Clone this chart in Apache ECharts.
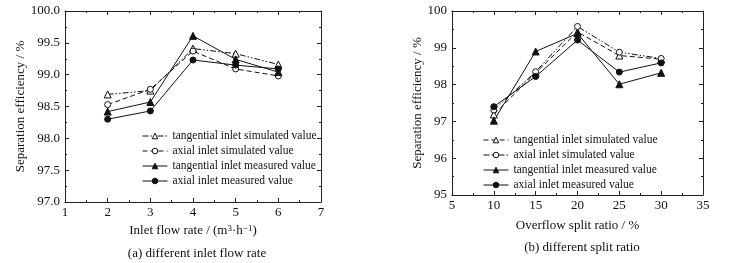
<!DOCTYPE html>
<html>
<head>
<meta charset="utf-8">
<script src="https://cdn.jsdelivr.net/npm/echarts@6/dist/echarts.min.js"></script>
<style>
  html, body { margin: 0; padding: 0; background: #fff; }
  #chart { width: 735px; height: 263px; }
</style>
</head>
<body>
<div id="chart"></div>
<script>
// (a) inlet flow rate
var flowRate = [2, 3, 4, 5, 6];
var aTangSim = [98.69, 98.75, 99.41, 99.33, 99.16];
var aAxialSim = [98.53, 98.77, 99.37, 99.09, 98.98];
var aTangMeas = [98.42, 98.57, 99.61, 99.24, 99.04];
var aAxialMeas = [98.30, 98.43, 99.23, 99.15, 99.09];

// (b) overflow split ratio
var splitRatio = [10, 15, 20, 25, 30];
var bTangSim = [97.19, 98.32, 99.43, 98.79, 98.69];
var bAxialSim = [97.31, 98.35, 99.58, 98.88, 98.71];
var bTangMeas = [97.02, 98.90, 99.39, 98.01, 98.32];
var bAxialMeas = [97.40, 98.22, 99.21, 98.34, 98.59];

var names = ['tangential inlet simulated value', 'axial inlet simulated value',
             'tangential inlet measured value', 'axial inlet measured value'];

var FONT = '"Liberation Serif", "Times New Roman", serif';
var dashDotDot = [6, 2, 1.5, 2, 1.5, 2];
var dashed = [5, 3];

function pairs(xs, ys) {
  var out = [];
  for (var i = 0; i < xs.length; i++) out.push([xs[i], ys[i]]);
  return out;
}

function mkSeries(name, data, symbol, filled, lineType) {
  return {
    name: name,
    type: 'line',
    data: data,
    symbol: symbol,
    symbolSize: symbol === 'circle' ? 6 : 7,
    showSymbol: true,
    animation: false,
    lineStyle: { color: '#111', width: 1, type: lineType },
    itemStyle: { color: filled ? '#111' : '#fff', borderColor: '#111', borderWidth: 1 },
    emphasis: { disabled: true }
  };
}

function axisCommon(extra) {
  var base = {
    type: 'value',
    axisLine: { show: true, lineStyle: { color: '#222', width: 1 } },
    axisTick: { show: true, inside: true, length: 4, lineStyle: { color: '#222' } },
    minorTick: { show: true, splitNumber: 2, length: 2, lineStyle: { color: '#222' } },
    splitLine: { show: false },
    axisLabel: { color: '#111', fontFamily: FONT, fontSize: 13, margin: 4 }
  };
  for (var k in extra) base[k] = extra[k];
  return base;
}

function legendOpt(left, top) {
  return {
    data: names, orient: 'vertical', left: left, top: top, padding: 0,
    itemGap: 3, itemWidth: 25, itemHeight: 7,
    lineStyle: { width: 1 },
    itemStyle: { borderWidth: 1 },
    textStyle: { fontFamily: FONT, fontSize: 11.5, color: '#111' },
    selectedMode: false
  };
}

var nameStyle = {
  fontFamily: FONT, fontSize: 13, color: '#111',
  rich: { sup: { fontFamily: FONT, fontSize: 9, color: '#111', verticalAlign: 'top', lineHeight: 10 } }
};

// panel (a)
var chart = echarts.init(document.getElementById('chart'));
chart.setOption({
  backgroundColor: '#fff',
  animation: false,
  title: [
    { text: '(a) different inlet flow rate', left: 192, top: 242, textAlign: 'center',
      textStyle: { fontFamily: FONT, fontSize: 13, fontWeight: 'normal', color: '#111' } },
    { text: '(b) different split ratio', left: 577, top: 236, textAlign: 'center',
      textStyle: { fontFamily: FONT, fontSize: 13, fontWeight: 'normal', color: '#111' } }
  ],
  grid: { left: 65, top: 11, width: 256, height: 191 },
  legend: legendOpt(142, 130),
  xAxis: [
    axisCommon({ min: 1, max: 7, interval: 1, name: 'Inlet flow rate / (m{sup|3}\u00b7h{sup|\u22121})',
      nameLocation: 'middle', nameGap: 21, nameTextStyle: nameStyle }),
    axisCommon({ min: 1, max: 7, interval: 1, position: 'top', axisLabel: { show: false } })
  ],
  yAxis: [
    axisCommon({ min: 97, max: 100, interval: 0.5, name: 'Separation efficiency / %',
      nameLocation: 'middle', nameGap: 32, nameTextStyle: nameStyle,
      axisLabel: { color: '#111', fontFamily: FONT, fontSize: 13, margin: 5,
        formatter: function (v) { return v.toFixed(1); } } }),
    axisCommon({ min: 97, max: 100, interval: 0.5, position: 'right', axisLabel: { show: false } })
  ],
  series: [
    mkSeries(names[0], pairs(flowRate, aTangSim), 'triangle', false, dashDotDot),
    mkSeries(names[1], pairs(flowRate, aAxialSim), 'circle', false, dashed),
    mkSeries(names[2], pairs(flowRate, aTangMeas), 'triangle', true, 'solid'),
    mkSeries(names[3], pairs(flowRate, aAxialMeas), 'circle', true, 'solid')
  ]
});

// panel (b): its own chart laid over the page so its legend has its own line styles
var div2 = document.createElement('div');
div2.style.cssText = 'position:absolute;left:0;top:0;width:735px;height:263px;pointer-events:none;';
document.body.style.position = 'relative';
document.body.appendChild(div2);
var chart2 = echarts.init(div2);
chart2.setOption({
  animation: false,
  grid: { left: 452, top: 11, width: 251, height: 184 },
  legend: legendOpt(483, 134),
  xAxis: [
    axisCommon({ min: 5, max: 35, interval: 5, name: 'Overflow split ratio / %',
      nameLocation: 'middle', nameGap: 24, nameTextStyle: nameStyle }),
    axisCommon({ min: 5, max: 35, interval: 5, position: 'top', axisLabel: { show: false } })
  ],
  yAxis: [
    axisCommon({ min: 95, max: 100, interval: 1, name: 'Separation efficiency / %',
      nameLocation: 'middle', nameGap: 28, nameTextStyle: nameStyle,
      axisLabel: { color: '#111', fontFamily: FONT, fontSize: 13, margin: 5 } }),
    axisCommon({ min: 95, max: 100, interval: 1, position: 'right', axisLabel: { show: false } })
  ],
  series: [
    mkSeries(names[0], pairs(splitRatio, bTangSim), 'triangle', false, dashed),
    mkSeries(names[1], pairs(splitRatio, bAxialSim), 'circle', false, dashDotDot),
    mkSeries(names[2], pairs(splitRatio, bTangMeas), 'triangle', true, 'solid'),
    mkSeries(names[3], pairs(splitRatio, bAxialMeas), 'circle', true, 'solid')
  ]
});
</script>
</body>
</html>
